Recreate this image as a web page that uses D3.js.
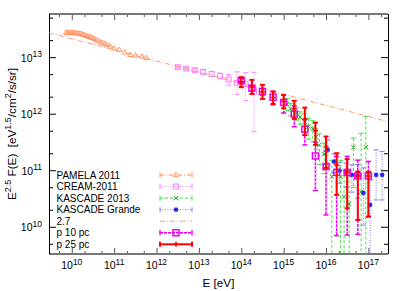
<!DOCTYPE html>
<html>
<head>
<meta charset="utf-8">
<script src="https://cdn.jsdelivr.net/npm/d3@7"></script>
<style>
  body { margin: 0; background: #fff; }
  text { font-family: "Liberation Sans", Arial, sans-serif; white-space: pre; }
</style>
</head>
<body>
<div id="container"></div>
<script>
/* CONSTANTS AND GLOBALS */
const width = 415;
const height = 291;
const margin = {top: 14, right: 27, bottom: 37, left: 49};

/* DATA (E in eV, E^2.5 F(E) in eV^1.5/cm^2/s/sr) */
const pamelaE = [7.33e9, 8.18e9, 9.12e9, 1.02e10, 1.13e10, 1.26e10, 1.41e10, 1.57e10, 1.75e10, 1.95e10,
  2.18e10, 2.43e10, 2.71e10, 3.02e10, 3.37e10, 3.90e10, 4.49e10, 5.20e10, 6.03e10, 6.95e10,
  8.04e10, 1.0e11, 1.33e11, 1.79e11, 2.39e11, 3.19e11, 4.52e11, 5.71e11];
const pamelaF = [2.72e13, 2.72e13, 2.72e13, 2.72e13, 2.69e13, 2.69e13, 2.64e13, 2.61e13, 2.54e13, 2.47e13,
  2.40e13, 2.33e13, 2.28e13, 2.21e13, 2.12e13, 2.01e13, 1.90e13, 1.80e13, 1.73e13, 1.66e13,
  1.55e13, 1.43e13, 1.35e13, 1.21e13, 1.10e13, 1.07e13, 1.03e13, 9.7e12];

const creamE = [3.16e12, 5.01e12, 7.94e12, 1.26e13, 2.0e13, 3.16e13, 5.01e13, 7.94e13, 1.26e14, 2.0e14];
const creamF = [6.65e12, 6.28e12, 5.89e12, 5.50e12, 5.06e12, 4.67e12, 4.05e12, 3.51e12, 3.37e12, 2.46e12];
const creamLo = [6.4e12, 6.0e12, 5.6e12, 5.0e12, 4.55e12, 4.13e12, 3.2e12, 2.2e12, 1.7e12, 4.8e11];
const creamHi = [6.9e12, 6.55e12, 6.2e12, 5.96e12, 5.57e12, 5.21e12, 4.9e12, 5.5e12, 5.3e12, 5.4e12];

const kas13E = [1.19e15, 1.46e15, 2.04e15, 2.44e15, 3.12e15, 3.84e15, 4.88e15, 5.83e15, 6.98e15, 9.02e15,
  1.37e16, 2.21e16, 2.67e16, 3.51e16, 4.43e16, 6.73e16, 8.69e16];
const kas13F = [1.49e12, 1.22e12, 1.02e12, 8.67e11, 7.16e11, 5.92e11, 5.39e11, 3.88e11, 2.81e11, 1.94e11,
  7.71e10, 7.61e10, 3.41e10, 2.53e10, 2.55e11, 4.13e10, 2.55e11];
const kas13Lo = [1.12e12, 9.2e11, 7.7e11, 6.5e11, 4.3e11, 3.55e11, 3.2e11, 2.3e11, 1.26e11, 8.7e10,
  0, 2e9, 0, 0, 5e10, 0, 0];
const kas13Hi = [1.86e12, 1.52e12, 1.28e12, 1.08e12, 1.0e12, 8.3e11, 7.5e11, 5.4e11, 4.4e11, 3.0e11,
  1.5e11, 1.5e11, 1.0e11, 1.0e11, 3.7e11, 4.5e11, 8.9e11];

const kasGE = [1.10e16, 1.55e16, 2.09e16, 2.98e16, 4.06e16, 5.56e16, 7.62e16, 1.10e17, 1.52e17, 2.11e17];
const kasGF = [2.29e11, 1.42e11, 9.84e10, 9.15e10, 8.26e10, 7.93e10, 3.96e10, 2.43e10, 8.26e10, 8.26e10];
const kasGLo = [1.24e11, 9.0e10, 5.9e10, 5.0e10, 4.1e10, 3.2e10, 1.07e10, 0, 2.98e10, 2.98e10];
const kasGHi = [3.44e11, 1.95e11, 1.38e11, 1.33e11, 1.24e11, 1.27e11, 1.1e11, 6.73e10, 2.29e11, 2.15e11];

// power law with index 2.7 (straight in log-log), end points
const slopeE = [2.9e9, 2.9e17];
const slopeF = [2.69e13, 7.24e11];

const pcE = [1e14, 1.78e14, 3.16e14, 5.62e14, 1e15, 1.78e15, 3.16e15, 5.62e15, 1e16, 1.78e16, 3.16e16, 5.62e16, 1e17];
const p10F = [3.85e12, 2.83e12, 2.46e12, 1.96e12, 1.58e12, 9.84e11, 5.32e11, 1.79e11, 1.16e11, 9.15e10, 9.15e10, 7.93e10, 7.93e10];
const p10Lo = [3.55e12, 2.55e12, 2.15e12, 1.43e12, 1.03e12, 5.9e11, 2.8e11, 4.37e10, 1.62e10, 6.97e9, 7.16e9, 7.35e9, 1.51e10];
const p10Hi = [4.15e12, 3.1e12, 2.8e12, 2.49e12, 2.14e12, 1.38e12, 7.84e11, 3.14e11, 2.15e11, 1.76e11, 1.76e11, 1.51e11, 1.43e11];
const p25F = [3.66e12, 2.98e12, 2.43e12, 1.94e12, 1.65e12, 1.22e12, 8.09e11, 4.97e11, 2.58e11, 1.24e11, 9.33e10, 7.93e10, 7.93e10];
const p25Lo = [2.94e12, 2.24e12, 1.83e12, 1.49e12, 1.25e12, 8.09e11, 4.18e11, 2.81e11, 1.10e11, 3.66e10, 2.12e10, 1.32e10, 1.51e10];
const p25Hi = [4.43e12, 3.96e12, 3.24e12, 2.46e12, 2.15e12, 1.69e12, 1.28e12, 6.95e11, 3.94e11, 2.0e11, 1.57e11, 9.44e10, 9.44e10];

const xTickExp = [10, 11, 12, 13, 14, 15, 16, 17];
const yTickExp = [10, 11, 12, 13];
const legendLabels = ["PAMELA 2011", "CREAM-2011", "KASCADE 2013", "KASCADE Grande", "2.7", "p 10 pc", "p 25 pc"];

/* SCALES */
const xScale = d3.scaleLog()
  .domain([2.9e9, 2.9e17])
  .range([margin.left, width - margin.right]);
const yScale = d3.scaleLog()
  .domain([3.3e9, 5.8e13])
  .range([height - margin.bottom, margin.top]);
const yBottom = height - margin.bottom;

/* HTML ELEMENTS */
const svg = d3.select("#container")
  .append("svg")
  .attr("width", width)
  .attr("height", height);

svg.append("clipPath").attr("id", "plot")
  .append("rect")
  .attr("x", margin.left).attr("y", margin.top)
  .attr("width", width - margin.left - margin.right)
  .attr("height", height - margin.top - margin.bottom);

// ticks: decades are major, 2 and 5 are minor
const minorOf = (lo, hi) => {
  const out = [];
  for (let e = 9; e <= 17; e++) [2, 5].forEach(m => {
    const v = m * Math.pow(10, e);
    if (v > lo && v < hi) out.push(v);
  });
  return out;
};
const xMajor = xTickExp.map(e => Math.pow(10, e));
const yMajor = yTickExp.map(e => Math.pow(10, e));
const xMinor = minorOf(...xScale.domain());
const yMinor = minorOf(...yScale.domain());

function tickGroup(axis, tx, ty, color) {
  const g = svg.append("g")
    .attr("transform", `translate(${tx},${ty})`)
    .call(axis);
  g.select(".domain").remove();
  g.selectAll("line").attr("stroke", color).attr("stroke-width", 1);
  g.selectAll("text").remove();
}
tickGroup(d3.axisBottom(xScale).tickValues(xMajor).tickSize(-6), 0, yBottom, "#555");
tickGroup(d3.axisBottom(xScale).tickValues(xMinor).tickSize(-3), 0, yBottom, "#555");
tickGroup(d3.axisTop(xScale).tickValues(xMajor).tickSize(-6), 0, margin.top, "#555");
tickGroup(d3.axisTop(xScale).tickValues(xMinor).tickSize(-3), 0, margin.top, "#555");
tickGroup(d3.axisLeft(yScale).tickValues(yMajor).tickSize(-7), margin.left, 0, "#000");
tickGroup(d3.axisLeft(yScale).tickValues(yMinor).tickSize(-4), margin.left, 0, "#000");
tickGroup(d3.axisRight(yScale).tickValues(yMajor).tickSize(-7), width - margin.right, 0, "#000");
tickGroup(d3.axisRight(yScale).tickValues(yMinor).tickSize(-4), width - margin.right, 0, "#000");

// border
svg.append("line").attr("x1", margin.left).attr("x2", width - margin.right)
  .attr("y1", margin.top).attr("y2", margin.top).attr("stroke", "#777").attr("stroke-width", 2);
svg.append("line").attr("x1", margin.left).attr("x2", width - margin.right)
  .attr("y1", yBottom).attr("y2", yBottom).attr("stroke", "#777").attr("stroke-width", 2);
svg.append("line").attr("x1", margin.left + 0.5).attr("x2", margin.left + 0.5)
  .attr("y1", margin.top).attr("y2", yBottom).attr("stroke", "#000");
svg.append("line").attr("x1", width - margin.right + 0.5).attr("x2", width - margin.right + 0.5)
  .attr("y1", margin.top).attr("y2", yBottom).attr("stroke", "#000");

// tick labels
xTickExp.forEach(e => {
  const t = svg.append("text")
    .attr("x", xScale(Math.pow(10, e)))
    .attr("y", 269)
    .attr("text-anchor", "middle")
    .attr("font-size", 10.5);
  t.append("tspan").text("10");
  t.append("tspan").attr("dy", -4.5).attr("font-size", 8.5).text(e);
});
yTickExp.forEach(e => {
  const t = svg.append("text")
    .attr("x", 42)
    .attr("y", yScale(Math.pow(10, e)) + 4.5)
    .attr("text-anchor", "end")
    .attr("font-size", 10.5);
  t.append("tspan").text("10");
  t.append("tspan").attr("dy", -4.5).attr("font-size", 8.5).text(e);
});

// axis titles
svg.append("text")
  .attr("x", (margin.left + width - margin.right) / 2)
  .attr("y", 287)
  .attr("text-anchor", "middle")
  .attr("font-size", 11.7)
  .text("E [eV]");

const yt = svg.append("text")
  .attr("transform", `translate(16,${(margin.top + yBottom) / 2}) rotate(-90)`)
  .attr("text-anchor", "middle")
  .attr("font-size", 11.7);
yt.append("tspan").text("E");
yt.append("tspan").attr("dy", -5).attr("font-size", 9).text("2.5");
yt.append("tspan").attr("dy", 5).text(" F(E)  [eV");
yt.append("tspan").attr("dy", -5).attr("font-size", 9).text("1.5");
yt.append("tspan").attr("dy", 5).text("/cm");
yt.append("tspan").attr("dy", -5).attr("font-size", 9).text("2");
yt.append("tspan").attr("dy", 5).text("/s/sr]");

/* SERIES STYLES */
const series = [
  {label: legendLabels[0], E: pamelaE, F: pamelaF, color: "#ff8a55", dash: "4,2,1,2", w: 1, marker: "tri", caps: true},
  {label: legendLabels[1], E: creamE, F: creamF, lo: creamLo, hi: creamHi, color: "#ff80ff", dash: "1,1.5", w: 1, marker: "sq", size: 5, caps: true},
  {label: legendLabels[2], E: kas13E, F: kas13F, lo: kas13Lo, hi: kas13Hi, color: "#44e044", dash: "3,2", w: 1, marker: "x", caps: true},
  {label: legendLabels[3], E: kasGE, F: kasGF, lo: kasGLo, hi: kasGHi, color: "#7777ff", mcolor: "#2222ee", dash: "1,1.5", w: 1, marker: "star", caps: true},
  {label: legendLabels[4], color: "#ff9a70", dash: "5,2,1,2", w: 1, marker: null, caps: false},
  {label: legendLabels[5], E: pcE, F: p10F, lo: p10Lo, hi: p10Hi, color: "#ee00ee", dash: "3,1", w: 1.5, marker: "sq", size: 6, caps: true},
  {label: legendLabels[6], E: pcE, F: p25F, lo: p25Lo, hi: p25Hi, color: "#ff0000", dash: null, w: 2, marker: "plus", caps: true}
];

function drawMarker(g, kind, x, y, s) {
  const c = s.mcolor || s.color;
  if (kind === "tri") {
    g.append("path").attr("d", `M${x},${y - 2.8}L${x + 2.6},${y + 1.7}L${x - 2.6},${y + 1.7}Z`)
      .attr("fill", "none").attr("stroke", c).attr("stroke-width", 0.9);
  } else if (kind === "sq") {
    const h = s.size / 2;
    g.append("rect").attr("x", x - h).attr("y", y - h).attr("width", s.size).attr("height", s.size)
      .attr("fill", "none").attr("stroke", c).attr("stroke-width", s.w);
  } else if (kind === "x") {
    g.append("path").attr("d", `M${x - 2.2},${y - 2.2}L${x + 2.2},${y + 2.2}M${x - 2.2},${y + 2.2}L${x + 2.2},${y - 2.2}`)
      .attr("stroke", "#22aa22").attr("stroke-width", 1);
  } else if (kind === "star") {
    g.append("path").attr("d", `M${x - 2.3},${y}L${x + 2.3},${y}M${x},${y - 2.3}L${x},${y + 2.3}M${x - 1.7},${y - 1.7}L${x + 1.7},${y + 1.7}M${x - 1.7},${y + 1.7}L${x + 1.7},${y - 1.7}`)
      .attr("stroke", c).attr("stroke-width", 1.2);
  } else if (kind === "plus") {
    g.append("path").attr("d", `M${x - 2.5},${y}L${x + 2.5},${y}M${x},${y - 2.5}L${x},${y + 2.5}`)
      .attr("stroke", c).attr("stroke-width", 1.5);
  }
}

/* MARKS */
const plot = svg.append("g").attr("clip-path", "url(#plot)");

series.forEach(s => {
  const g = plot.append("g");
  if (!s.E) {
    // power law line
    g.append("path")
      .attr("d", d3.line().x(d => xScale(d[0])).y(d => yScale(d[1]))(d3.zip(slopeE, slopeF)))
      .attr("fill", "none").attr("stroke", s.color).attr("stroke-width", s.w)
      .attr("stroke-dasharray", s.dash);
    return;
  }
  s.E.forEach((e, i) => {
    const x = xScale(e);
    if (s.lo) {
      const yHi = yScale(s.hi[i]);
      const yLo = s.lo[i] > 0 ? yScale(s.lo[i]) : yBottom + 5;
      g.append("line").attr("x1", x).attr("x2", x).attr("y1", yHi).attr("y2", yLo)
        .attr("stroke", s.color).attr("stroke-width", s.w).attr("stroke-dasharray", s.dash);
      [yHi, yLo].forEach(yy => g.append("line")
        .attr("x1", x - 2.5).attr("x2", x + 2.5).attr("y1", yy).attr("y2", yy)
        .attr("stroke", s.color).attr("stroke-width", s.w));
    }
    drawMarker(g, s.marker, x, yScale(s.F[i]), s);
  });
});

/* LEGEND */
const leg = svg.append("g");
const lx0 = 160, lx1 = 192, lxm = 176;
series.forEach((s, i) => {
  const y = 175 + i * 11.55;
  leg.append("text").attr("x", 56.5).attr("y", y + 3.6).attr("font-size", 10).text(s.label);
  leg.append("line").attr("x1", lx0).attr("x2", lx1).attr("y1", y).attr("y2", y)
    .attr("stroke", s.color).attr("stroke-width", s.w).attr("stroke-dasharray", s.dash);
  if (s.caps) {
    [lx0, lx1].forEach(xx => leg.append("line").attr("x1", xx).attr("x2", xx)
      .attr("y1", y - 2.5).attr("y2", y + 2.5).attr("stroke", s.color).attr("stroke-width", s.w));
  }
  if (s.marker) drawMarker(leg, s.marker, lxm, y, s);
});
</script>
</body>
</html>
